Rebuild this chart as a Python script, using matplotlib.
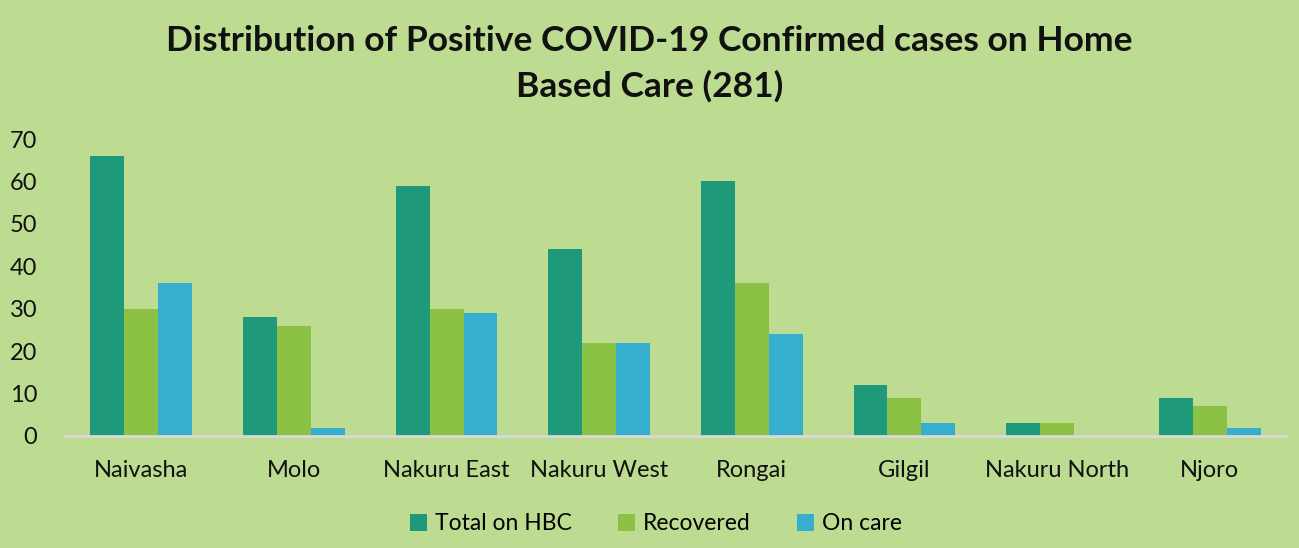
import numpy as np
import matplotlib.pyplot as plt

# Datos
distritos = ["Naivasha", "Molo", "Nakuru East", "Nakuru West", "Rongai",
             "Gilgil", "Nakuru North", "Njoro"]
total_hbc = [66, 28, 59, 44, 60, 12, 3, 9]
recuperados = [30, 26, 30, 22, 36, 9, 3, 7]
en_cuidado = [36, 2, 29, 22, 24, 3, 0, 2]

series = ["Total on HBC", "Recovered", "On care"]
colores = ["#1E9A7A", "#8BC145", "#36AFCF"]
fondo = "#BDDC91"

plt.rcParams['font.family'] = ['Lato', 'DejaVu Sans']

fig = plt.figure(figsize=(12.99, 5.48), dpi=100, facecolor=fondo)
ax = fig.add_axes([65 / 1299, 112 / 548, 1221 / 1299, 297 / 548])
ax.set_facecolor(fondo)

x = np.arange(len(distritos))
ancho = 0.222
for i, (vals, nombre, c) in enumerate(zip([total_hbc, recuperados, en_cuidado], series, colores)):
    ax.bar(x + (i - 1) * ancho, vals, ancho, color=c, label=nombre)

ax.set_xlim(-0.5, len(distritos) - 0.5)
ax.set_ylim(0, 70)
ax.set_yticks(range(0, 71, 10))
ax.set_xticks(x)
ax.set_xticklabels(distritos)
ax.tick_params(axis='both', length=0, labelsize=17, colors="#111111")
ax.tick_params(axis='x', pad=17)
ax.tick_params(axis='y', pad=20)

for lado in ["top", "right", "left"]:
    ax.spines[lado].set_visible(False)
ax.spines["bottom"].set_color("#D9D9D9")
ax.spines["bottom"].set_linewidth(2)

fig.text(0.5, 0.884, "Distribution of Positive COVID-19 Confirmed cases on Home\nBased Care (281)",
         ha="center", va="center", fontsize=25.5, fontweight="bold", color="#111111",
         linespacing=1.5)

fig.legend(loc="lower center", bbox_to_anchor=(0.505, -0.013), ncol=3, frameon=False,
           fontsize=16.5, handlelength=0.75, handleheight=0.75, handletextpad=0.35,
           columnspacing=2.0)

fig.savefig("out.png", dpi=100, facecolor=fondo)
